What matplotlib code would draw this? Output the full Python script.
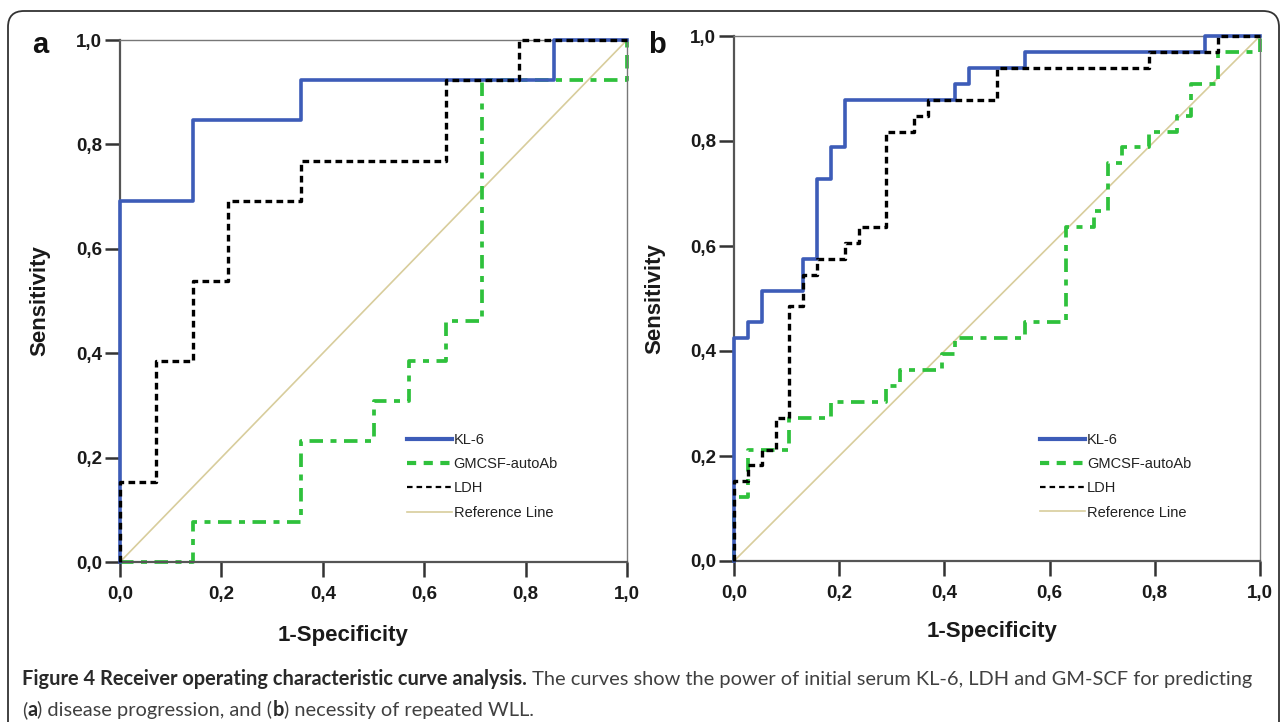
import matplotlib
matplotlib.use("Agg")
from matplotlib import pyplot as plt
from matplotlib.lines import Line2D
from matplotlib.patches import FancyBboxPatch
from matplotlib.transforms import IdentityTransform

plt.rcParams["font.family"] = ["Liberation Sans", "DejaVu Sans"]

# panel a: disease progression
a_kl6_fpr = [0, 0, 0.143, 0.143, 0.357, 0.357, 0.857, 0.857, 1]
a_kl6_tpr = [0, 0.692, 0.692, 0.846, 0.846, 0.923, 0.923, 1, 1]
a_gm_fpr = [0, 0.143, 0.143, 0.357, 0.357, 0.5, 0.5, 0.571, 0.571, 0.643, 0.643, 0.714, 0.714, 1, 1]
a_gm_tpr = [0, 0, 0.077, 0.077, 0.231, 0.231, 0.308, 0.308, 0.385, 0.385, 0.462, 0.462, 0.923, 0.923, 1]
a_ldh_fpr = [0, 0, 0.071, 0.071, 0.143, 0.143, 0.214, 0.214, 0.357, 0.357, 0.643, 0.643, 0.786, 0.786, 1]
a_ldh_tpr = [0, 0.154, 0.154, 0.385, 0.385, 0.538, 0.538, 0.692, 0.692, 0.769, 0.769, 0.923, 0.923, 1, 1]

# panel b: necessity of repeated WLL
b_kl6_fpr = [0, 0, 0.026, 0.026, 0.053, 0.053, 0.132, 0.132, 0.158, 0.158, 0.184, 0.184,
             0.211, 0.211, 0.421, 0.421, 0.447, 0.447, 0.553, 0.553, 0.895, 0.895, 1]
b_kl6_tpr = [0, 0.424, 0.424, 0.455, 0.455, 0.515, 0.515, 0.576, 0.576, 0.727, 0.727, 0.788,
             0.788, 0.879, 0.879, 0.909, 0.909, 0.939, 0.939, 0.970, 0.970, 1, 1]
b_gm_fpr = [0, 0, 0.026, 0.026, 0.105, 0.105, 0.184, 0.184, 0.289, 0.289, 0.316, 0.316,
            0.395, 0.395, 0.421, 0.421, 0.553, 0.553, 0.632, 0.632, 0.684, 0.684, 0.711, 0.711,
            0.737, 0.737, 0.789, 0.789, 0.842, 0.842, 0.868, 0.868, 0.921, 0.921, 1, 1]
b_gm_tpr = [0, 0.121, 0.121, 0.212, 0.212, 0.273, 0.273, 0.303, 0.303, 0.333, 0.333, 0.364,
            0.364, 0.394, 0.394, 0.424, 0.424, 0.455, 0.455, 0.636, 0.636, 0.667, 0.667, 0.758,
            0.758, 0.788, 0.788, 0.818, 0.818, 0.848, 0.848, 0.909, 0.909, 0.970, 0.970, 1]
b_ldh_fpr = [0, 0, 0.026, 0.026, 0.053, 0.053, 0.079, 0.079, 0.105, 0.105, 0.132, 0.132,
             0.158, 0.158, 0.211, 0.211, 0.237, 0.237, 0.289, 0.289, 0.342, 0.342, 0.368, 0.368,
             0.5, 0.5, 0.789, 0.789, 0.921, 0.921, 1]
b_ldh_tpr = [0, 0.152, 0.152, 0.182, 0.182, 0.212, 0.212, 0.273, 0.273, 0.485, 0.485, 0.545,
             0.545, 0.576, 0.576, 0.606, 0.606, 0.636, 0.636, 0.818, 0.818, 0.848, 0.848, 0.879,
             0.879, 0.939, 0.939, 0.970, 0.970, 1, 1]

ticks = [0, 0.2, 0.4, 0.6, 0.8, 1.0]
tick_labels = ["0,0", "0,2", "0,4", "0,6", "0,8", "1,0"]
series_names = ["KL-6", "GMCSF-autoAb", "LDH", "Reference Line"]

BLUE = "#3d5cb8"
GREEN = "#2fc13c"
TAN = "#d8cd9c"
W, H = 1282, 722

fig = plt.figure(figsize=(W / 100, H / 100), dpi=100)
axa = fig.add_axes([120 / W, 1 - 562 / H, 507 / W, 522 / H])
axb = fig.add_axes([734 / W, 1 - 561 / H, 526 / W, 525 / H])


def draw(ax, kl, gm, ldh, leg_x, leg_y, ylab_x, xlab_x, xlab_y):
    ax.plot([0, 1], [0, 1], color=TAN, lw=1.2, clip_on=False, zorder=1)
    ax.plot(gm[0], gm[1], color=GREEN, lw=2.7, dashes=(3.6, 2.0, 1.6, 2.0), clip_on=False, zorder=2)
    ax.plot(kl[0], kl[1], color=BLUE, lw=2.6, clip_on=False, zorder=3)
    ax.plot(ldh[0], ldh[1], color="black", lw=2.4, dashes=(2.0, 1.3), clip_on=False, zorder=4)
    ax.set_xlim(0, 1)
    ax.set_ylim(0, 1)
    ax.set_xticks(ticks)
    ax.set_yticks(ticks)
    ax.set_xticklabels(tick_labels, fontweight="bold")
    ax.set_yticklabels(tick_labels, fontweight="bold")
    ax.tick_params(direction="out", length=11, width=1.8, color="#333333",
                   labelsize=13.5, labelcolor="#1a1a1a")
    ax.tick_params(axis="x", pad=6)
    ax.tick_params(axis="y", pad=2)
    for side in ["top", "right"]:
        ax.spines[side].set_color("#777777")
        ax.spines[side].set_linewidth(1.0)
    for side in ["left", "bottom"]:
        ax.spines[side].set_color("#555555")
        ax.spines[side].set_linewidth(1.6)
    ax.text(ylab_x, 0.5, "Sensitivity", transform=ax.transAxes, rotation=90,
            ha="center", va="center", fontsize=16, fontweight="bold", color="#1a1a1a")
    ax.text(xlab_x, xlab_y, "1-Specificity", transform=ax.transAxes,
            ha="center", va="center", fontsize=16, fontweight="bold", color="#1a1a1a")
    handles = [
        Line2D([], [], color=BLUE, lw=3),
        Line2D([], [], color=GREEN, lw=3, dashes=(2.2, 1.8)),
        Line2D([], [], color="black", lw=1.6, dashes=(2.5, 1.8)),
        Line2D([], [], color=TAN, lw=1.2),
    ]
    leg = ax.legend(handles, series_names, loc="upper left", bbox_to_anchor=(leg_x, leg_y),
                    frameon=False, fontsize=10.5, handlelength=3.1, handletextpad=0.1,
                    labelspacing=0.7, borderpad=0, borderaxespad=0)
    for t in leg.get_texts():
        t.set_color("#222222")


draw(axa, (a_kl6_fpr, a_kl6_tpr), (a_gm_fpr, a_gm_tpr), (a_ldh_fpr, a_ldh_tpr),
     0.566, 0.247, -0.158, 0.44, -0.14)
draw(axb, (b_kl6_fpr, b_kl6_tpr), (b_gm_fpr, b_gm_tpr), (b_ldh_fpr, b_ldh_tpr),
     0.582, 0.244, -0.150, 0.49, -0.135)

fig.text(32 / W, 1 - 53 / H, "a", fontsize=21, fontweight="bold", va="baseline", color="#111111")
fig.text(648 / W, 1 - 53 / H, "b", fontsize=21, fontweight="bold", va="baseline", color="#111111")

# rounded frame round the whole figure
frame = FancyBboxPatch((8, -30), 1271, H - 11 + 30, boxstyle="round,pad=0,rounding_size=16",
                       transform=IdentityTransform(), fill=False, edgecolor="#333333", lw=1.3)
fig.patches.append(frame)

# caption, bold and regular pieces laid one after the other
cap_font = ["Lato", "DejaVu Sans"]
renderer = fig.canvas.get_renderer()

line1 = [("Figure 4 Receiver operating characteristic curve analysis.", "bold", "#2a2a2a"),
         (" The curves show the power of initial serum KL-6, LDH and GM-SCF for predicting", "normal", "#404040")]
line2 = [("(", "normal", "#404040"), ("a", "bold", "#2a2a2a"),
         (") disease progression, and (", "normal", "#404040"), ("b", "bold", "#2a2a2a"),
         (") necessity of repeated WLL.", "normal", "#404040")]


def make(line, y):
    return [fig.text(0, 1 - y / H, s, fontsize=14, fontweight=w, family=cap_font,
                     color=c, va="baseline") for s, w, c in line]


texts1 = make(line1, 685)
texts2 = make(line2, 716)
width1 = sum(t.get_window_extent(renderer).width for t in texts1)
cap_size = min(14.5, 14 * 1232 / width1)
for texts in (texts1, texts2):
    x = 22
    for t in texts:
        t.set_fontsize(cap_size)
        t.set_x(x / W)
        x += t.get_window_extent(renderer).width

fig.savefig("out.png", dpi=100)
